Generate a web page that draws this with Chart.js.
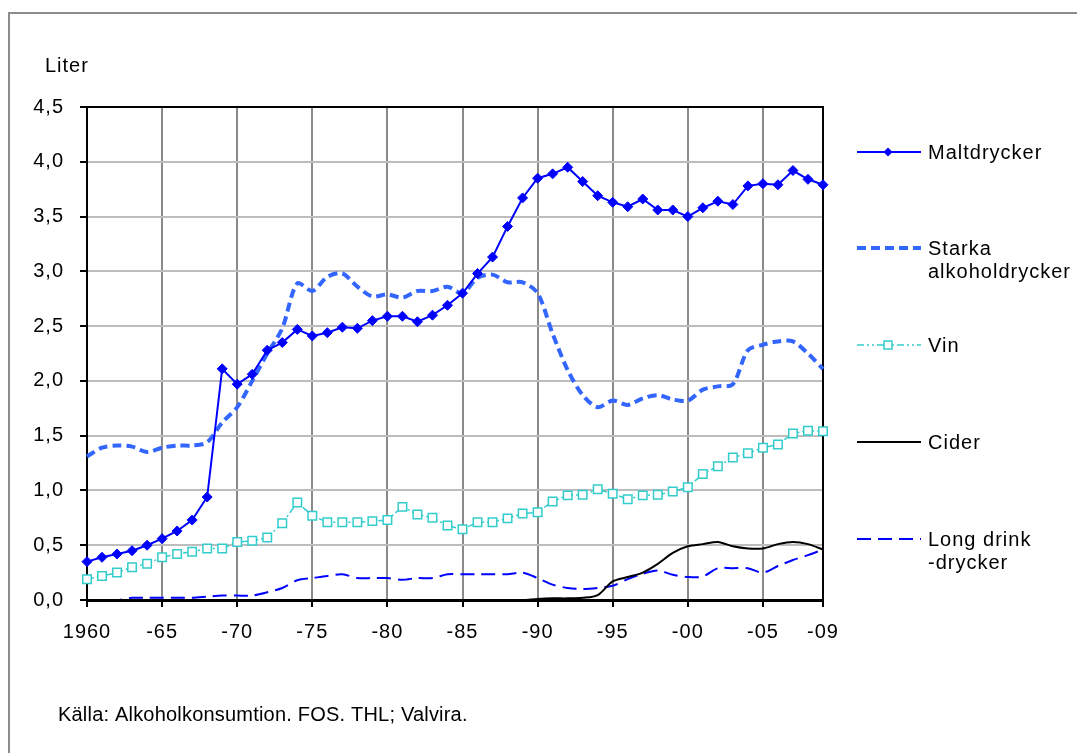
<!DOCTYPE html>
<html>
<head>
<meta charset="utf-8">
<script src="https://cdn.jsdelivr.net/npm/chart.js@4.4.1/dist/chart.umd.min.js"></script>
<style>
  html, body { margin: 0; padding: 0; background: #fff; }
  canvas { display: block; }
</style>
</head>
<body>
<canvas id="chart" width="1077" height="753"></canvas>
<script>
// Alkoholkonsumtion per dryckesslag, liter 100 % alkohol per invånare
const years = [];
for (let y = 1960; y <= 2009; y++) years.push(y);

const maltdrycker = [0.35, 0.39, 0.42, 0.45, 0.50, 0.56, 0.63, 0.73, 0.94, 2.11,
    1.97, 2.06, 2.28, 2.35, 2.47, 2.41, 2.44, 2.49, 2.48, 2.55,
    2.59, 2.59, 2.54, 2.60, 2.69, 2.80, 2.98, 3.13, 3.41, 3.67,
    3.85, 3.89, 3.95, 3.82, 3.69, 3.63, 3.59, 3.66, 3.56, 3.56,
    3.50, 3.58, 3.64, 3.61, 3.78, 3.80, 3.79, 3.92, 3.84, 3.79];

const starka = [1.31, 1.39, 1.41, 1.40, 1.35, 1.39, 1.41, 1.41, 1.44, 1.62,
    1.76, 2.00, 2.25, 2.48, 2.89, 2.82, 2.95, 2.98, 2.86, 2.77,
    2.79, 2.76, 2.82, 2.82, 2.86, 2.80, 2.94, 2.97, 2.90, 2.90,
    2.80, 2.43, 2.10, 1.87, 1.76, 1.82, 1.78, 1.84, 1.87, 1.83,
    1.82, 1.92, 1.95, 1.97, 2.28, 2.33, 2.36, 2.36, 2.25, 2.11];

const vin = [0.19, 0.22, 0.25, 0.30, 0.33, 0.39, 0.42, 0.44, 0.47, 0.47,
    0.53, 0.54, 0.57, 0.70, 0.89, 0.77, 0.71, 0.71, 0.71, 0.72,
    0.73, 0.85, 0.78, 0.75, 0.68, 0.645, 0.71, 0.71, 0.745, 0.79,
    0.80, 0.90, 0.955, 0.96, 1.01, 0.97, 0.92, 0.955, 0.96, 0.99,
    1.03, 1.15, 1.22, 1.30, 1.34, 1.39, 1.42, 1.52, 1.545, 1.54];

const cider = [0, 0, 0, 0, 0, 0, 0, 0, 0, 0,
    0, 0, 0, 0, 0, 0, 0, 0, 0, 0,
    0, 0, 0, 0, 0, 0, 0, 0, 0, 0,
    0.01, 0.015, 0.015, 0.02, 0.045, 0.17, 0.21, 0.25, 0.33, 0.43,
    0.49, 0.51, 0.53, 0.49, 0.47, 0.47, 0.51, 0.53, 0.51, 0.46];

const longdrink = [0, 0, 0, 0.02, 0.02, 0.02, 0.02, 0.02, 0.03, 0.04,
    0.04, 0.04, 0.07, 0.11, 0.18, 0.20, 0.22, 0.235, 0.20, 0.20,
    0.20, 0.185, 0.20, 0.20, 0.235, 0.235, 0.235, 0.235, 0.235, 0.25,
    0.20, 0.14, 0.11, 0.10, 0.11, 0.13, 0.19, 0.24, 0.27, 0.23,
    0.21, 0.215, 0.29, 0.29, 0.29, 0.25, 0.31, 0.365, 0.41, 0.46];

const yTicks = [0, 0.5, 1, 1.5, 2, 2.5, 3, 3.5, 4, 4.5];

const FONT = "'Liberation Sans', Arial, sans-serif";
Chart.defaults.font.family = FONT;
Chart.defaults.font.size = 20;
Chart.defaults.color = '#000';

function yearLabel(y) {
    return y === 1960 ? '1960' : '-' + String(y).slice(2);
}

// legend entries drawn by hand, the Excel legend has wrapped labels
const legendItems = [
    { lines: ['Maltdrycker'], y: 152, color: '#0000FF', width: 2, dash: [], marker: 'diamond' },
    { lines: ['Starka', 'alkoholdrycker'], y: 248, color: '#3366FF', width: 4, dash: [9, 5] },
    { lines: ['Vin'], y: 345, color: '#33CCCC', width: 1.5, dash: [7, 3, 2, 3, 2, 3], marker: 'square' },
    { lines: ['Cider'], y: 442, color: '#000000', width: 2, dash: [] },
    { lines: ['Long drink', '-drycker'], y: 539, color: '#0000FF', width: 2, dash: [14, 7] }
];

const extrasPlugin = {
    id: 'extras',
    beforeDraw(chart) {
        const ctx = chart.ctx;
        ctx.letterSpacing = '1px';
        ctx.save();
        ctx.strokeStyle = '#8c8c8c';
        ctx.lineWidth = 2;
        ctx.strokeRect(9, 13, 1100, 800);
        ctx.restore();
    },
    beforeDatasetsDraw(chart) {
        const { ctx, chartArea } = chart;
        ctx.save();
        ctx.strokeStyle = '#000';
        ctx.lineWidth = 2;
        ctx.beginPath();
        ctx.moveTo(chartArea.left, chartArea.top);
        ctx.lineTo(chartArea.right, chartArea.top);
        ctx.lineTo(chartArea.right, chartArea.bottom);
        ctx.stroke();
        ctx.restore();
    },
    afterDraw(chart) {
        const ctx = chart.ctx;
        ctx.save();
        ctx.fillStyle = '#000';
        ctx.font = '20px ' + FONT;
        ctx.textBaseline = 'alphabetic';
        ctx.textAlign = 'left';
        ctx.letterSpacing = '1px';
        ctx.fillText('Liter', 45, 72);

        legendItems.forEach(item => {
            ctx.save();
            ctx.strokeStyle = item.color;
            ctx.lineWidth = item.width;
            ctx.setLineDash(item.dash);
            ctx.beginPath();
            ctx.moveTo(857, item.y);
            ctx.lineTo(921, item.y);
            ctx.stroke();
            ctx.setLineDash([]);
            if (item.marker === 'diamond') {
                ctx.fillStyle = item.color;
                ctx.beginPath();
                ctx.moveTo(888, item.y - 4.5);
                ctx.lineTo(892.5, item.y);
                ctx.lineTo(888, item.y + 4.5);
                ctx.lineTo(883.5, item.y);
                ctx.closePath();
                ctx.fill();
            } else if (item.marker === 'square') {
                ctx.fillStyle = '#fff';
                ctx.lineWidth = 1.5;
                ctx.fillRect(884, item.y - 4, 8, 8);
                ctx.strokeRect(884, item.y - 4, 8, 8);
            }
            ctx.restore();
            item.lines.forEach((t, i) => {
                ctx.fillText(t, 928, item.y + 7 + i * 23);
            });
        });

        ctx.letterSpacing = '0.2px';
        ctx.fillText('Källa: Alkoholkonsumtion. FOS. THL; Valvira.', 58, 721);
        ctx.restore();
    }
};

const ctx = document.getElementById('chart').getContext('2d');
new Chart(ctx, {
    type: 'line',
    data: {
        labels: years,
        datasets: [{
            label: 'Maltdrycker',
            data: maltdrycker,
            borderColor: '#0000FF',
            backgroundColor: '#0000FF',
            borderWidth: 2,
            pointStyle: 'rectRot',
            pointRadius: 5,
            pointBorderWidth: 1,
            tension: 0
        }, {
            label: 'Starka alkoholdrycker',
            data: starka,
            borderColor: '#3366FF',
            borderWidth: 4,
            borderDash: [9, 5],
            pointRadius: 0,
            tension: 0.3
        }, {
            label: 'Vin',
            data: vin,
            borderColor: '#33CCCC',
            backgroundColor: '#ffffff',
            borderWidth: 1.5,
            borderDash: [7, 3, 2, 3, 2, 3],
            pointStyle: 'rect',
            pointRadius: 6,
            pointBorderWidth: 1.5,
            tension: 0
        }, {
            label: 'Cider',
            data: cider,
            borderColor: '#000000',
            borderWidth: 2,
            pointRadius: 0,
            tension: 0.3
        }, {
            label: 'Long drink -drycker',
            data: longdrink,
            borderColor: '#0000FF',
            borderWidth: 2,
            borderDash: [14, 7],
            pointRadius: 0,
            tension: 0.3
        }]
    },
    options: {
        responsive: false,
        animation: false,
        clip: false,
        layout: { padding: { top: 107, right: 254, left: 0, bottom: 0 } },
        plugins: {
            legend: { display: false },
            tooltip: { enabled: false }
        },
        scales: {
            x: {
                type: 'category',
                offset: false,
                afterFit(scale) { scale.height = 153; },
                grid: {
                    offset: false,
                    color: '#8a8a8a',
                    lineWidth: 2,
                    tickColor: '#000',
                    tickLength: 7
                },
                border: { color: '#000', width: 3 },
                ticks: {
                    autoSkip: false,
                    maxRotation: 0,
                    padding: 13,
                    callback(val, idx) {
                        const y = years[idx];
                        if (y % 5 === 0 || idx === years.length - 1) return yearLabel(y);
                        return null;
                    }
                }
            },
            y: {
                min: 0,
                max: 4.5,
                afterFit(scale) { scale.width = 87; },
                afterBuildTicks(scale) {
                    scale.ticks = yTicks.map(v => ({ value: v }));
                },
                grid: {
                    color: '#bdbdbd',
                    lineWidth: 2,
                    tickColor: '#000',
                    tickLength: 7
                },
                border: { color: '#000', width: 2 },
                ticks: {
                    padding: 16,
                    callback(v) { return v.toFixed(1).replace('.', ','); }
                }
            }
        }
    },
    plugins: [extrasPlugin]
});
</script>
</body>
</html>
